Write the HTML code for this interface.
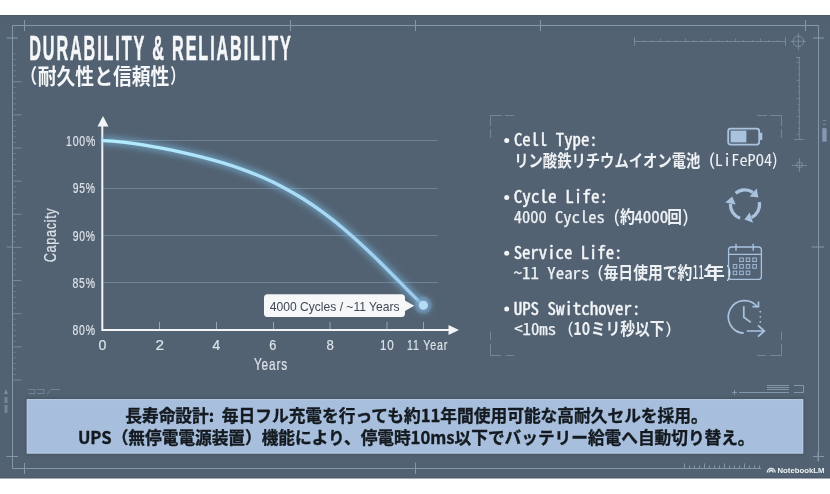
<!DOCTYPE html>
<html><head><meta charset="utf-8"><title>Durability &amp; Reliability</title>
<style>
html,body{margin:0;padding:0;background:#fff;width:830px;height:494px;overflow:hidden;}
svg{display:block;}
text{white-space:pre;}
</style></head>
<body>
<svg width="830" height="494" viewBox="0 0 830 494">
<rect x="0" y="15" width="830" height="463.3" fill="#526272"/>
<rect x="0" y="15" width="830" height="1.2" fill="#4c5a6a"/>
<rect x="0" y="477" width="830" height="1.3" fill="#4c5a6a"/>
<line x1="12.5" y1="25.5" x2="818.5" y2="25.5" stroke="#8397ab" stroke-width="1" />
<line x1="12.5" y1="25.5" x2="12.5" y2="468.5" stroke="#8397ab" stroke-width="1" />
<line x1="818.5" y1="25.5" x2="818.5" y2="461.5" stroke="#8397ab" stroke-width="1" />
<line x1="12.5" y1="468.5" x2="761" y2="468.5" stroke="#8397ab" stroke-width="1" />
<line x1="24.5" y1="20" x2="24.5" y2="31" stroke="#8397ab" stroke-width="1" />
<line x1="290.5" y1="20" x2="290.5" y2="31" stroke="#8397ab" stroke-width="1" />
<line x1="415.5" y1="20" x2="415.5" y2="31" stroke="#8397ab" stroke-width="1" />
<line x1="540.5" y1="20" x2="540.5" y2="31" stroke="#8397ab" stroke-width="1" />
<line x1="805.5" y1="20" x2="805.5" y2="31" stroke="#8397ab" stroke-width="1" />
<line x1="6.5" y1="38" x2="18" y2="38" stroke="#8397ab" stroke-width="1" />
<line x1="813" y1="38" x2="824" y2="38" stroke="#8397ab" stroke-width="1" />
<line x1="811.5" y1="247" x2="824" y2="247" stroke="#8397ab" stroke-width="1" />
<line x1="6.5" y1="247" x2="12.5" y2="247" stroke="#8397ab" stroke-width="1" opacity="0.8"/>
<line x1="813" y1="456.5" x2="824" y2="456.5" stroke="#8397ab" stroke-width="1" />
<line x1="6.5" y1="456.5" x2="18" y2="456.5" stroke="#8397ab" stroke-width="1" />
<line x1="24.5" y1="463" x2="24.5" y2="474" stroke="#8397ab" stroke-width="1" />
<line x1="415.5" y1="462.5" x2="415.5" y2="474" stroke="#8397ab" stroke-width="1" />
<line x1="12.5" y1="54.08" x2="16.0" y2="54.08" stroke="#8397ab" stroke-width="1" opacity="0.45"/>
<line x1="12.5" y1="59.61" x2="16.0" y2="59.61" stroke="#8397ab" stroke-width="1" opacity="0.45"/>
<line x1="12.5" y1="65.13" x2="16.0" y2="65.13" stroke="#8397ab" stroke-width="1" opacity="0.45"/>
<line x1="12.5" y1="70.65" x2="16.0" y2="70.65" stroke="#8397ab" stroke-width="1" opacity="0.45"/>
<line x1="12.5" y1="76.18" x2="16.0" y2="76.18" stroke="#8397ab" stroke-width="1" opacity="0.45"/>
<line x1="12.5" y1="81.7" x2="21.5" y2="81.7" stroke="#8397ab" stroke-width="1" opacity="0.75"/>
<line x1="12.5" y1="87.22" x2="16.0" y2="87.22" stroke="#8397ab" stroke-width="1" opacity="0.45"/>
<line x1="12.5" y1="92.75" x2="16.0" y2="92.75" stroke="#8397ab" stroke-width="1" opacity="0.45"/>
<line x1="12.5" y1="98.27" x2="16.0" y2="98.27" stroke="#8397ab" stroke-width="1" opacity="0.45"/>
<line x1="12.5" y1="103.79" x2="16.0" y2="103.79" stroke="#8397ab" stroke-width="1" opacity="0.45"/>
<line x1="12.5" y1="109.32" x2="16.0" y2="109.32" stroke="#8397ab" stroke-width="1" opacity="0.45"/>
<line x1="12.5" y1="114.84" x2="21.5" y2="114.84" stroke="#8397ab" stroke-width="1" opacity="0.75"/>
<line x1="12.5" y1="120.36" x2="16.0" y2="120.36" stroke="#8397ab" stroke-width="1" opacity="0.45"/>
<line x1="12.5" y1="125.89" x2="16.0" y2="125.89" stroke="#8397ab" stroke-width="1" opacity="0.45"/>
<line x1="12.5" y1="131.41" x2="16.0" y2="131.41" stroke="#8397ab" stroke-width="1" opacity="0.45"/>
<line x1="12.5" y1="136.93" x2="16.0" y2="136.93" stroke="#8397ab" stroke-width="1" opacity="0.45"/>
<line x1="12.5" y1="142.46" x2="16.0" y2="142.46" stroke="#8397ab" stroke-width="1" opacity="0.45"/>
<line x1="12.5" y1="147.98" x2="21.5" y2="147.98" stroke="#8397ab" stroke-width="1" opacity="0.75"/>
<line x1="12.5" y1="153.5" x2="16.0" y2="153.5" stroke="#8397ab" stroke-width="1" opacity="0.45"/>
<line x1="12.5" y1="159.03" x2="16.0" y2="159.03" stroke="#8397ab" stroke-width="1" opacity="0.45"/>
<line x1="12.5" y1="164.55" x2="16.0" y2="164.55" stroke="#8397ab" stroke-width="1" opacity="0.45"/>
<line x1="12.5" y1="170.07" x2="16.0" y2="170.07" stroke="#8397ab" stroke-width="1" opacity="0.45"/>
<line x1="12.5" y1="175.6" x2="16.0" y2="175.6" stroke="#8397ab" stroke-width="1" opacity="0.45"/>
<line x1="12.5" y1="181.12" x2="21.5" y2="181.12" stroke="#8397ab" stroke-width="1" opacity="0.75"/>
<line x1="12.5" y1="186.64" x2="16.0" y2="186.64" stroke="#8397ab" stroke-width="1" opacity="0.45"/>
<line x1="12.5" y1="192.17" x2="16.0" y2="192.17" stroke="#8397ab" stroke-width="1" opacity="0.45"/>
<line x1="12.5" y1="197.69" x2="16.0" y2="197.69" stroke="#8397ab" stroke-width="1" opacity="0.45"/>
<line x1="12.5" y1="203.21" x2="16.0" y2="203.21" stroke="#8397ab" stroke-width="1" opacity="0.45"/>
<line x1="12.5" y1="208.74" x2="16.0" y2="208.74" stroke="#8397ab" stroke-width="1" opacity="0.45"/>
<line x1="12.5" y1="214.26" x2="21.5" y2="214.26" stroke="#8397ab" stroke-width="1" opacity="0.75"/>
<line x1="12.5" y1="219.78" x2="16.0" y2="219.78" stroke="#8397ab" stroke-width="1" opacity="0.45"/>
<line x1="12.5" y1="225.31" x2="16.0" y2="225.31" stroke="#8397ab" stroke-width="1" opacity="0.45"/>
<line x1="12.5" y1="230.83" x2="16.0" y2="230.83" stroke="#8397ab" stroke-width="1" opacity="0.45"/>
<line x1="12.5" y1="236.35" x2="16.0" y2="236.35" stroke="#8397ab" stroke-width="1" opacity="0.45"/>
<line x1="12.5" y1="241.88" x2="16.0" y2="241.88" stroke="#8397ab" stroke-width="1" opacity="0.45"/>
<line x1="12.5" y1="247.4" x2="21.5" y2="247.4" stroke="#8397ab" stroke-width="1" opacity="0.75"/>
<line x1="12.5" y1="252.92" x2="16.0" y2="252.92" stroke="#8397ab" stroke-width="1" opacity="0.45"/>
<line x1="12.5" y1="258.45" x2="16.0" y2="258.45" stroke="#8397ab" stroke-width="1" opacity="0.45"/>
<line x1="12.5" y1="263.97" x2="16.0" y2="263.97" stroke="#8397ab" stroke-width="1" opacity="0.45"/>
<line x1="12.5" y1="269.49" x2="16.0" y2="269.49" stroke="#8397ab" stroke-width="1" opacity="0.45"/>
<line x1="12.5" y1="275.02" x2="16.0" y2="275.02" stroke="#8397ab" stroke-width="1" opacity="0.45"/>
<line x1="12.5" y1="280.54" x2="21.5" y2="280.54" stroke="#8397ab" stroke-width="1" opacity="0.75"/>
<line x1="12.5" y1="286.06" x2="16.0" y2="286.06" stroke="#8397ab" stroke-width="1" opacity="0.45"/>
<line x1="12.5" y1="291.59" x2="16.0" y2="291.59" stroke="#8397ab" stroke-width="1" opacity="0.45"/>
<line x1="12.5" y1="297.11" x2="16.0" y2="297.11" stroke="#8397ab" stroke-width="1" opacity="0.45"/>
<line x1="12.5" y1="302.63" x2="16.0" y2="302.63" stroke="#8397ab" stroke-width="1" opacity="0.45"/>
<line x1="12.5" y1="308.16" x2="16.0" y2="308.16" stroke="#8397ab" stroke-width="1" opacity="0.45"/>
<line x1="12.5" y1="313.68" x2="21.5" y2="313.68" stroke="#8397ab" stroke-width="1" opacity="0.75"/>
<line x1="12.5" y1="319.2" x2="16.0" y2="319.2" stroke="#8397ab" stroke-width="1" opacity="0.45"/>
<line x1="12.5" y1="324.73" x2="16.0" y2="324.73" stroke="#8397ab" stroke-width="1" opacity="0.45"/>
<line x1="12.5" y1="330.25" x2="16.0" y2="330.25" stroke="#8397ab" stroke-width="1" opacity="0.45"/>
<line x1="12.5" y1="335.77" x2="16.0" y2="335.77" stroke="#8397ab" stroke-width="1" opacity="0.45"/>
<line x1="12.5" y1="341.3" x2="16.0" y2="341.3" stroke="#8397ab" stroke-width="1" opacity="0.45"/>
<line x1="12.5" y1="346.82" x2="21.5" y2="346.82" stroke="#8397ab" stroke-width="1" opacity="0.75"/>
<line x1="12.5" y1="352.34" x2="16.0" y2="352.34" stroke="#8397ab" stroke-width="1" opacity="0.45"/>
<line x1="12.5" y1="357.87" x2="16.0" y2="357.87" stroke="#8397ab" stroke-width="1" opacity="0.45"/>
<line x1="12.5" y1="363.39" x2="16.0" y2="363.39" stroke="#8397ab" stroke-width="1" opacity="0.45"/>
<line x1="12.5" y1="368.91" x2="16.0" y2="368.91" stroke="#8397ab" stroke-width="1" opacity="0.45"/>
<line x1="12.5" y1="374.44" x2="16.0" y2="374.44" stroke="#8397ab" stroke-width="1" opacity="0.45"/>
<line x1="12.5" y1="379.96" x2="21.5" y2="379.96" stroke="#8397ab" stroke-width="1" opacity="0.75"/>
<line x1="634.5" y1="41.5" x2="785.5" y2="41.5" stroke="#8397ab" stroke-width="1" opacity="0.7"/>
<line x1="634.5" y1="37" x2="634.5" y2="46" stroke="#8397ab" stroke-width="1" opacity="0.7"/>
<line x1="785.5" y1="37" x2="785.5" y2="46" stroke="#8397ab" stroke-width="1" opacity="0.7"/>
<line x1="634.5" y1="38.5" x2="634.5" y2="41.5" stroke="#8397ab" stroke-width="1" opacity="0.6"/>
<line x1="643.5" y1="40.0" x2="643.5" y2="41.5" stroke="#8397ab" stroke-width="1" opacity="0.6"/>
<line x1="651.5" y1="40.0" x2="651.5" y2="41.5" stroke="#8397ab" stroke-width="1" opacity="0.6"/>
<line x1="660.5" y1="38.5" x2="660.5" y2="41.5" stroke="#8397ab" stroke-width="1" opacity="0.6"/>
<line x1="668.5" y1="40.0" x2="668.5" y2="41.5" stroke="#8397ab" stroke-width="1" opacity="0.6"/>
<line x1="676.5" y1="40.0" x2="676.5" y2="41.5" stroke="#8397ab" stroke-width="1" opacity="0.6"/>
<line x1="685.5" y1="38.5" x2="685.5" y2="41.5" stroke="#8397ab" stroke-width="1" opacity="0.6"/>
<line x1="693.5" y1="40.0" x2="693.5" y2="41.5" stroke="#8397ab" stroke-width="1" opacity="0.6"/>
<line x1="701.5" y1="40.0" x2="701.5" y2="41.5" stroke="#8397ab" stroke-width="1" opacity="0.6"/>
<line x1="710.5" y1="38.5" x2="710.5" y2="41.5" stroke="#8397ab" stroke-width="1" opacity="0.6"/>
<line x1="718.5" y1="40.0" x2="718.5" y2="41.5" stroke="#8397ab" stroke-width="1" opacity="0.6"/>
<line x1="727.5" y1="40.0" x2="727.5" y2="41.5" stroke="#8397ab" stroke-width="1" opacity="0.6"/>
<line x1="735.5" y1="38.5" x2="735.5" y2="41.5" stroke="#8397ab" stroke-width="1" opacity="0.6"/>
<line x1="743.5" y1="40.0" x2="743.5" y2="41.5" stroke="#8397ab" stroke-width="1" opacity="0.6"/>
<line x1="752.5" y1="40.0" x2="752.5" y2="41.5" stroke="#8397ab" stroke-width="1" opacity="0.6"/>
<line x1="760.5" y1="38.5" x2="760.5" y2="41.5" stroke="#8397ab" stroke-width="1" opacity="0.6"/>
<line x1="768.5" y1="40.0" x2="768.5" y2="41.5" stroke="#8397ab" stroke-width="1" opacity="0.6"/>
<line x1="777.5" y1="40.0" x2="777.5" y2="41.5" stroke="#8397ab" stroke-width="1" opacity="0.6"/>
<circle cx="798.4" cy="41.3" r="5.3" fill="none" stroke="#8397ab" stroke-width="1" opacity="0.85"/>
<line x1="790.5" y1="41.3" x2="806" y2="41.3" stroke="#8397ab" stroke-width="1" opacity="0.75"/>
<line x1="798.4" y1="33" x2="798.4" y2="50" stroke="#8397ab" stroke-width="1" opacity="0.75"/>
<line x1="799.3" y1="57" x2="799.3" y2="139" stroke="#8397ab" stroke-width="1" opacity="0.75"/>
<line x1="794" y1="139.5" x2="803.5" y2="139.5" stroke="#8397ab" stroke-width="1" opacity="0.75"/>
<line x1="796" y1="57.5" x2="800" y2="57.5" stroke="#8397ab" stroke-width="1" opacity="0.75"/>
<line x1="796.3" y1="62.5" x2="799.3" y2="62.5" stroke="#8397ab" stroke-width="1" opacity="0.5"/>
<line x1="797.8" y1="68.5" x2="799.3" y2="68.5" stroke="#8397ab" stroke-width="1" opacity="0.5"/>
<line x1="797.8" y1="74.5" x2="799.3" y2="74.5" stroke="#8397ab" stroke-width="1" opacity="0.5"/>
<line x1="796.3" y1="80.5" x2="799.3" y2="80.5" stroke="#8397ab" stroke-width="1" opacity="0.5"/>
<line x1="797.8" y1="86.5" x2="799.3" y2="86.5" stroke="#8397ab" stroke-width="1" opacity="0.5"/>
<line x1="797.8" y1="92.5" x2="799.3" y2="92.5" stroke="#8397ab" stroke-width="1" opacity="0.5"/>
<line x1="796.3" y1="98.5" x2="799.3" y2="98.5" stroke="#8397ab" stroke-width="1" opacity="0.5"/>
<line x1="797.8" y1="104.5" x2="799.3" y2="104.5" stroke="#8397ab" stroke-width="1" opacity="0.5"/>
<line x1="797.8" y1="110.5" x2="799.3" y2="110.5" stroke="#8397ab" stroke-width="1" opacity="0.5"/>
<line x1="796.3" y1="116.5" x2="799.3" y2="116.5" stroke="#8397ab" stroke-width="1" opacity="0.5"/>
<line x1="797.8" y1="122.5" x2="799.3" y2="122.5" stroke="#8397ab" stroke-width="1" opacity="0.5"/>
<line x1="797.8" y1="128.5" x2="799.3" y2="128.5" stroke="#8397ab" stroke-width="1" opacity="0.5"/>
<line x1="796.3" y1="134.5" x2="799.3" y2="134.5" stroke="#8397ab" stroke-width="1" opacity="0.5"/>
<circle cx="799.5" cy="165" r="3" fill="none" stroke="#8397ab" stroke-width="1" opacity="0.75"/>
<line x1="792" y1="165.5" x2="807" y2="165.5" stroke="#8397ab" stroke-width="1" opacity="0.7"/>
<line x1="799.5" y1="158" x2="799.5" y2="172" stroke="#8397ab" stroke-width="1" opacity="0.7"/>
<rect x="822.3" y="128.2" width="4.3" height="13.4" fill="#8ea5bd" opacity="0.85"/>
<line x1="822.5" y1="120.5" x2="826.5" y2="120.5" stroke="#8ea5bd" stroke-width="1" opacity="0.5"/>
<line x1="823" y1="124.5" x2="826" y2="124.5" stroke="#8ea5bd" stroke-width="1" opacity="0.6"/>
<line x1="739" y1="392.5" x2="789" y2="392.5" stroke="#8397ab" stroke-width="1" />
<line x1="734.5" y1="390" x2="734.5" y2="395" stroke="#8397ab" stroke-width="1" />
<line x1="732" y1="392.5" x2="737" y2="392.5" stroke="#8397ab" stroke-width="1" />
<line x1="767" y1="385.5" x2="789" y2="385.5" stroke="#8397ab" stroke-width="1" />
<line x1="767" y1="387.5" x2="789" y2="387.5" stroke="#8397ab" stroke-width="1" />
<line x1="767" y1="389.5" x2="789" y2="389.5" stroke="#8397ab" stroke-width="1" />
<path d="M794 385.5 H803.5 V392.5 H794" fill="none" stroke="#8397ab" stroke-width="1"/>
<line x1="683.5" y1="468.5" x2="761" y2="468.5" stroke="#8397ab" stroke-width="1" />
<line x1="684.5" y1="463.5" x2="684.5" y2="468.5" stroke="#8397ab" stroke-width="1" />
<line x1="689.5" y1="465.5" x2="689.5" y2="468.5" stroke="#8397ab" stroke-width="1" />
<line x1="694.5" y1="465.5" x2="694.5" y2="468.5" stroke="#8397ab" stroke-width="1" />
<line x1="699.5" y1="465.5" x2="699.5" y2="468.5" stroke="#8397ab" stroke-width="1" />
<line x1="704.5" y1="463.5" x2="704.5" y2="468.5" stroke="#8397ab" stroke-width="1" />
<line x1="709.5" y1="465.5" x2="709.5" y2="468.5" stroke="#8397ab" stroke-width="1" />
<line x1="714.5" y1="465.5" x2="714.5" y2="468.5" stroke="#8397ab" stroke-width="1" />
<line x1="719.5" y1="465.5" x2="719.5" y2="468.5" stroke="#8397ab" stroke-width="1" />
<line x1="724.5" y1="463.5" x2="724.5" y2="468.5" stroke="#8397ab" stroke-width="1" />
<line x1="729.5" y1="465.5" x2="729.5" y2="468.5" stroke="#8397ab" stroke-width="1" />
<line x1="734.5" y1="465.5" x2="734.5" y2="468.5" stroke="#8397ab" stroke-width="1" />
<line x1="739.5" y1="465.5" x2="739.5" y2="468.5" stroke="#8397ab" stroke-width="1" />
<line x1="744.5" y1="463.5" x2="744.5" y2="468.5" stroke="#8397ab" stroke-width="1" />
<line x1="749.5" y1="465.5" x2="749.5" y2="468.5" stroke="#8397ab" stroke-width="1" />
<line x1="754.5" y1="465.5" x2="754.5" y2="468.5" stroke="#8397ab" stroke-width="1" />
<line x1="759.5" y1="465.5" x2="759.5" y2="468.5" stroke="#8397ab" stroke-width="1" />
<line x1="818" y1="452" x2="818" y2="461" stroke="#8397ab" stroke-width="1" />
<path d="M28.5 389.5 H35 V393.5 H28.5 M37 389.5 H44 V393.5 H37 M47 394 L51 389.5 H60" fill="none" stroke="#8397ab" stroke-width="0.8" opacity="0.8"/>
<path d="M4 394 L6 389 L8 394 Z" fill="#8397ab" opacity="0.8"/>
<rect x="4.5" y="397" width="3" height="6" fill="#8397ab" opacity="0.7"/>
<rect x="4.5" y="405" width="3" height="8" fill="#8397ab" opacity="0.7"/>
<text x="29.28" y="59.63" font-size="34.52" font-family='"Liberation Sans", "Noto Sans CJK JP", sans-serif' font-weight="bold" fill="#f6f7f9" textLength="263.35" lengthAdjust="spacingAndGlyphs" letter-spacing="4" stroke="#f6f7f9" stroke-width="0.6">DURABILITY &amp; RELIABILITY</text>
<text x="20.54" y="83.23" font-size="19.68" font-family='"Noto Sans CJK JP", sans-serif' font-weight="bold" fill="#f4f6f8" textLength="16.70" lengthAdjust="spacingAndGlyphs"  >（</text>
<text x="37.80" y="83.64" font-size="21.23" font-family='"Noto Sans CJK JP", sans-serif' font-weight="bold" fill="#f4f6f8" textLength="131.51" lengthAdjust="spacingAndGlyphs"  >耐久性と信頼性</text>
<text x="170.27" y="83.23" font-size="19.68" font-family='"Noto Sans CJK JP", sans-serif' font-weight="bold" fill="#f4f6f8" textLength="14.61" lengthAdjust="spacingAndGlyphs"  >）</text>
<line x1="103" y1="140.5" x2="438" y2="140.5" stroke="#6f8296" stroke-width="1" />
<line x1="103" y1="188.5" x2="438" y2="188.5" stroke="#6f8296" stroke-width="1" />
<line x1="103" y1="235.5" x2="438" y2="235.5" stroke="#6f8296" stroke-width="1" />
<line x1="103" y1="282.5" x2="438" y2="282.5" stroke="#6f8296" stroke-width="1" />
<path d="M103 330 H450" stroke="#f2f4f6" stroke-width="2" fill="none"/>
<path d="M102.3 126 V331" stroke="#f2f4f6" stroke-width="2" fill="none"/>
<path d="M97.5 126.5 L103 116 L108.5 126.5 Z" fill="#f2f4f6"/>
<path d="M448.5 325 L459 330 L448.5 335 Z" fill="#f2f4f6"/>
<line x1="159.5" y1="322" x2="159.5" y2="329" stroke="#9eacba" stroke-width="0.9" />
<line x1="216.5" y1="322" x2="216.5" y2="329" stroke="#9eacba" stroke-width="0.9" />
<line x1="273.5" y1="322" x2="273.5" y2="329" stroke="#9eacba" stroke-width="0.9" />
<line x1="330" y1="322" x2="330" y2="329" stroke="#9eacba" stroke-width="0.9" />
<line x1="387" y1="322" x2="387" y2="329" stroke="#9eacba" stroke-width="0.9" />
<line x1="423.5" y1="322" x2="423.5" y2="329" stroke="#9eacba" stroke-width="0.9" />
<text x="65.97" y="145.90" font-size="15.05" font-family='"Liberation Sans", "Noto Sans CJK JP", sans-serif' font-weight="normal" fill="#dde3e9" textLength="30.19" lengthAdjust="spacingAndGlyphs" letter-spacing="1.2" stroke="#dde3e9" stroke-width="0.2">100%</text>
<text x="72.66" y="193.20" font-size="15.05" font-family='"Liberation Sans", "Noto Sans CJK JP", sans-serif' font-weight="normal" fill="#dde3e9" textLength="23.21" lengthAdjust="spacingAndGlyphs" letter-spacing="1.2" stroke="#dde3e9" stroke-width="0.2">95%</text>
<text x="72.66" y="240.80" font-size="14.91" font-family='"Liberation Sans", "Noto Sans CJK JP", sans-serif' font-weight="normal" fill="#dde3e9" textLength="23.21" lengthAdjust="spacingAndGlyphs" letter-spacing="1.2" stroke="#dde3e9" stroke-width="0.2">90%</text>
<text x="72.45" y="288.10" font-size="14.91" font-family='"Liberation Sans", "Noto Sans CJK JP", sans-serif' font-weight="normal" fill="#dde3e9" textLength="23.43" lengthAdjust="spacingAndGlyphs" letter-spacing="1.2" stroke="#dde3e9" stroke-width="0.2">85%</text>
<text x="72.45" y="335.30" font-size="14.91" font-family='"Liberation Sans", "Noto Sans CJK JP", sans-serif' font-weight="normal" fill="#dde3e9" textLength="23.43" lengthAdjust="spacingAndGlyphs" letter-spacing="1.2" stroke="#dde3e9" stroke-width="0.2">80%</text>
<text x="98.40" y="350.10" font-size="14.91" font-family='"Liberation Sans", "Noto Sans CJK JP", sans-serif' font-weight="normal" fill="#dde3e9" textLength="9.03" lengthAdjust="spacingAndGlyphs" letter-spacing="1.2" stroke="#dde3e9" stroke-width="0.2">0</text>
<text x="155.59" y="350.10" font-size="14.91" font-family='"Liberation Sans", "Noto Sans CJK JP", sans-serif' font-weight="normal" fill="#dde3e9" textLength="9.79" lengthAdjust="spacingAndGlyphs" letter-spacing="1.2" stroke="#dde3e9" stroke-width="0.2">2</text>
<text x="212.56" y="350.10" font-size="15.29" font-family='"Liberation Sans", "Noto Sans CJK JP", sans-serif' font-weight="normal" fill="#dde3e9" textLength="8.78" lengthAdjust="spacingAndGlyphs" letter-spacing="1.2" stroke="#dde3e9" stroke-width="0.2">4</text>
<text x="269.33" y="350.10" font-size="14.91" font-family='"Liberation Sans", "Noto Sans CJK JP", sans-serif' font-weight="normal" fill="#dde3e9" textLength="8.11" lengthAdjust="spacingAndGlyphs" letter-spacing="1.2" stroke="#dde3e9" stroke-width="0.2">6</text>
<text x="326.41" y="350.10" font-size="14.91" font-family='"Liberation Sans", "Noto Sans CJK JP", sans-serif' font-weight="normal" fill="#dde3e9" textLength="8.39" lengthAdjust="spacingAndGlyphs" letter-spacing="1.2" stroke="#dde3e9" stroke-width="0.2">8</text>
<text x="379.99" y="350.10" font-size="14.91" font-family='"Liberation Sans", "Noto Sans CJK JP", sans-serif' font-weight="normal" fill="#dde3e9" textLength="14.78" lengthAdjust="spacingAndGlyphs" letter-spacing="1.2" stroke="#dde3e9" stroke-width="0.2">10</text>
<text x="407.06" y="350.10" font-size="15.29" font-family='"Liberation Sans", "Noto Sans CJK JP", sans-serif' font-weight="normal" fill="#dde3e9" textLength="41.14" lengthAdjust="spacingAndGlyphs" letter-spacing="1.2" stroke="#dde3e9" stroke-width="0.2">11 Year</text>
<text x="253.92" y="370.40" font-size="16.57" font-family='"Liberation Sans", "Noto Sans CJK JP", sans-serif' font-weight="normal" fill="#dde3e9" textLength="34.05" lengthAdjust="spacingAndGlyphs" letter-spacing="1.2" stroke="#dde3e9" stroke-width="0.2">Years</text>
<text x="-262.21" y="56.12" font-size="16.14" font-family='"Liberation Sans", "Noto Sans CJK JP", sans-serif' font-weight="normal" fill="#dde3e9" textLength="54.50" lengthAdjust="spacingAndGlyphs" letter-spacing="0.8" transform="rotate(-90)" stroke="#dde3e9" stroke-width="0.2">Capacity</text>
<defs><filter id="glow" x="-20%" y="-20%" width="140%" height="140%"><feGaussianBlur stdDeviation="3"/></filter><linearGradient id="cg" x1="103" y1="0" x2="423" y2="0" gradientUnits="userSpaceOnUse"><stop offset="0" stop-color="#b4eeff"/><stop offset="0.6" stop-color="#aadcf6"/><stop offset="1" stop-color="#9ccaee"/></linearGradient></defs>
<path d="M103.00 140.61 C109.67 140.84 116.33 141.39 123.00 142.13 C129.67 142.88 136.33 143.82 143.00 144.89 C149.67 145.95 156.33 147.14 163.00 148.43 C169.67 149.72 176.33 151.10 183.00 152.59 C189.67 154.07 196.33 155.66 203.00 157.37 C209.67 159.09 216.33 160.93 223.00 162.94 C229.67 164.96 236.33 167.15 243.00 169.56 C249.67 171.97 256.33 174.61 263.00 177.53 C269.67 180.45 276.33 183.65 283.00 187.17 C289.67 190.69 296.33 194.53 303.00 198.73 C309.67 202.93 316.33 207.49 323.00 212.40 C329.67 217.31 336.33 222.59 343.00 228.19 C349.67 233.79 356.33 239.73 363.00 245.93 C369.67 252.14 376.33 258.60 383.00 265.22 C389.67 271.84 396.33 278.61 403.00 285.36 C409.67 292.10 416.33 298.83 423.00 305.29" fill="none" stroke="#7fc4ee" stroke-width="8" opacity="0.55" filter="url(#glow)"/>
<path d="M103.00 140.61 C109.67 140.84 116.33 141.39 123.00 142.13 C129.67 142.88 136.33 143.82 143.00 144.89 C149.67 145.95 156.33 147.14 163.00 148.43 C169.67 149.72 176.33 151.10 183.00 152.59 C189.67 154.07 196.33 155.66 203.00 157.37 C209.67 159.09 216.33 160.93 223.00 162.94 C229.67 164.96 236.33 167.15 243.00 169.56 C249.67 171.97 256.33 174.61 263.00 177.53 C269.67 180.45 276.33 183.65 283.00 187.17 C289.67 190.69 296.33 194.53 303.00 198.73 C309.67 202.93 316.33 207.49 323.00 212.40 C329.67 217.31 336.33 222.59 343.00 228.19 C349.67 233.79 356.33 239.73 363.00 245.93 C369.67 252.14 376.33 258.60 383.00 265.22 C389.67 271.84 396.33 278.61 403.00 285.36 C409.67 292.10 416.33 298.83 423.00 305.29" fill="none" stroke="url(#cg)" stroke-width="3.4" stroke-linecap="round"/>
<defs><filter id="soft" x="-50%" y="-50%" width="200%" height="200%"><feGaussianBlur stdDeviation="0.8"/></filter></defs>
<circle cx="423.4" cy="305.3" r="9" fill="#7fb8e6" opacity="0.3" filter="url(#glow)"/>
<circle cx="423.4" cy="305.3" r="8.3" fill="#7aa4c8" opacity="0.55" filter="url(#soft)"/>
<circle cx="423.4" cy="305.3" r="4.6" fill="#b3dcf6"/>
<path d="M267.5 294.3 H401.5 Q405 294.3 405 297.8 V300.5 L414.2 305.8 L405 311 V313.5 Q405 317 401.5 317 H267.5 Q264 317 264 313.5 V297.8 Q264 294.3 267.5 294.3 Z" fill="#f5f7f9"/>
<text x="269.75" y="310.80" font-size="12.20" font-family='"Liberation Sans", "Noto Sans CJK JP", sans-serif' font-weight="normal" fill="#3f4955" textLength="129.84" lengthAdjust="spacingAndGlyphs"  >4000 Cycles / ~11 Years</text>
<path d="M490.5 138 V129 M490.5 126 V115.5 H502 M505 115.5 H514" fill="none" stroke="#8397ab" stroke-width="1" opacity="0.7"/>
<path d="M781.5 138 V129 M781.5 126 V115.5 H770 M767 115.5 H757" fill="none" stroke="#8397ab" stroke-width="1" opacity="0.7"/>
<path d="M490.5 331.5 V340 M490.5 344 V355.5 H501 M506 355.5 H514" fill="none" stroke="#8397ab" stroke-width="1" opacity="0.7"/>
<path d="M781.5 331.5 V340 M781.5 344 V355.5 H770 M766 355.5 H757" fill="none" stroke="#8397ab" stroke-width="1" opacity="0.7"/>
<circle cx="506.7" cy="140.5" r="2.5" fill="#f4f6f8"/>
<text x="513.97" y="146.10" font-size="17.20" font-family='"Noto Sans Mono CJK JP", "DejaVu Sans Mono", monospace' font-weight="normal" fill="#f4f6f8" textLength="83.65" lengthAdjust="spacingAndGlyphs"  stroke="#f4f6f8" stroke-width="0.45">Cell Type:</text>
<circle cx="506.7" cy="197.4" r="2.5" fill="#f4f6f8"/>
<text x="513.75" y="203.00" font-size="17.20" font-family='"Noto Sans Mono CJK JP", "DejaVu Sans Mono", monospace' font-weight="normal" fill="#f4f6f8" textLength="94.34" lengthAdjust="spacingAndGlyphs"  stroke="#f4f6f8" stroke-width="0.45">Cycle Life:</text>
<circle cx="506.7" cy="253.20000000000002" r="2.5" fill="#f4f6f8"/>
<text x="513.77" y="258.80" font-size="17.20" font-family='"Noto Sans Mono CJK JP", "DejaVu Sans Mono", monospace' font-weight="normal" fill="#f4f6f8" textLength="108.68" lengthAdjust="spacingAndGlyphs"  stroke="#f4f6f8" stroke-width="0.45">Service Life:</text>
<circle cx="506.7" cy="309.09999999999997" r="2.5" fill="#f4f6f8"/>
<text x="513.72" y="314.70" font-size="17.20" font-family='"Noto Sans Mono CJK JP", "DejaVu Sans Mono", monospace' font-weight="normal" fill="#f4f6f8" textLength="126.70" lengthAdjust="spacingAndGlyphs"  stroke="#f4f6f8" stroke-width="0.45">UPS Switchover:</text>
<text x="514.16" y="167.00" font-size="17.00" font-family='"Noto Sans CJK JP", sans-serif' font-weight="bold" fill="#eef1f4" textLength="186.26" lengthAdjust="spacingAndGlyphs"  >リン酸鉄リチウムイオン電池</text>
<text x="708.16" y="165.63" font-size="16.60" font-family='"Noto Sans CJK JP", sans-serif' font-weight="normal" fill="#eef1f4" textLength="7.06" lengthAdjust="spacingAndGlyphs"  >(</text>
<text x="714.89" y="166.46" font-size="15.85" font-family='"Noto Sans Mono CJK JP", "DejaVu Sans Mono", monospace' font-weight="normal" fill="#eef1f4" textLength="57.21" lengthAdjust="spacingAndGlyphs"  >LiFePO4</text>
<text x="772.03" y="165.63" font-size="16.60" font-family='"Noto Sans CJK JP", sans-serif' font-weight="normal" fill="#eef1f4" textLength="5.91" lengthAdjust="spacingAndGlyphs"  >)</text>
<text x="513.79" y="222.70" font-size="16.30" font-family='"Noto Sans Mono CJK JP", "DejaVu Sans Mono", monospace' font-weight="normal" fill="#eef1f4" textLength="90.93" lengthAdjust="spacingAndGlyphs"  stroke="#eef1f4" stroke-width="0.25">4000 Cycles</text>
<text x="612.96" y="223.00" font-size="17.00" font-family='"Noto Sans CJK JP", sans-serif' font-weight="normal" fill="#eef1f4" textLength="7.06" lengthAdjust="spacingAndGlyphs"  >(</text>
<text x="619.98" y="223.00" font-size="17.00" font-family='"Noto Sans CJK JP", sans-serif' font-weight="bold" fill="#eef1f4" textLength="14.98" lengthAdjust="spacingAndGlyphs"  >約</text>
<text x="634.28" y="222.70" font-size="16.30" font-family='"Noto Sans Mono CJK JP", "DejaVu Sans Mono", monospace' font-weight="normal" fill="#eef1f4" textLength="33.99" lengthAdjust="spacingAndGlyphs"  stroke="#eef1f4" stroke-width="0.35">4000</text>
<text x="667.32" y="223.00" font-size="17.00" font-family='"Noto Sans CJK JP", sans-serif' font-weight="bold" fill="#eef1f4" textLength="14.66" lengthAdjust="spacingAndGlyphs"  >回</text>
<text x="682.18" y="223.00" font-size="17.00" font-family='"Noto Sans CJK JP", sans-serif' font-weight="normal" fill="#eef1f4" textLength="7.06" lengthAdjust="spacingAndGlyphs"  >)</text>
<text x="513.68" y="278.60" font-size="16.30" font-family='"Noto Sans Mono CJK JP", "DejaVu Sans Mono", monospace' font-weight="normal" fill="#eef1f4" textLength="75.78" lengthAdjust="spacingAndGlyphs"  stroke="#eef1f4" stroke-width="0.25">~11 Years</text>
<text x="596.86" y="277.76" font-size="15.90" font-family='"Noto Sans CJK JP", sans-serif' font-weight="normal" fill="#eef1f4" textLength="7.06" lengthAdjust="spacingAndGlyphs"  >(</text>
<text x="603.56" y="278.80" font-size="17.00" font-family='"Noto Sans CJK JP", sans-serif' font-weight="bold" fill="#eef1f4" textLength="88.89" lengthAdjust="spacingAndGlyphs"  >毎日使用で約</text>
<text x="692.40" y="279.30" font-size="18.60" font-family='"Noto Sans CJK JP", sans-serif' font-weight="500" fill="#eef1f4" textLength="11.69" lengthAdjust="spacingAndGlyphs"  >11</text>
<text x="703.34" y="278.80" font-size="17.00" font-family='"Noto Sans CJK JP", sans-serif' font-weight="bold" fill="#eef1f4" textLength="21.72" lengthAdjust="spacingAndGlyphs"  >年</text>
<text x="726.27" y="277.76" font-size="15.90" font-family='"Noto Sans CJK JP", sans-serif' font-weight="normal" fill="#eef1f4" textLength="5.59" lengthAdjust="spacingAndGlyphs"  >)</text>
<text x="514.18" y="335.20" font-size="16.30" font-family='"Noto Sans Mono CJK JP", "DejaVu Sans Mono", monospace' font-weight="normal" fill="#eef1f4" textLength="42.02" lengthAdjust="spacingAndGlyphs"  stroke="#eef1f4" stroke-width="0.25">&lt;10ms</text>
<text x="566.86" y="333.86" font-size="15.40" font-family='"Noto Sans CJK JP", sans-serif' font-weight="normal" fill="#eef1f4" textLength="7.06" lengthAdjust="spacingAndGlyphs"  >(</text>
<text x="573.24" y="335.04" font-size="17.87" font-family='"Noto Sans CJK JP", sans-serif' font-weight="bold" fill="#eef1f4" textLength="16.84" lengthAdjust="spacingAndGlyphs"  >10</text>
<text x="590.63" y="334.90" font-size="17.00" font-family='"Noto Sans CJK JP", sans-serif' font-weight="bold" fill="#eef1f4" textLength="73.93" lengthAdjust="spacingAndGlyphs"  >ミリ秒以下</text>
<text x="665.38" y="333.86" font-size="15.40" font-family='"Noto Sans CJK JP", sans-serif' font-weight="normal" fill="#eef1f4" textLength="7.06" lengthAdjust="spacingAndGlyphs"  >)</text>
<rect x="728.2" y="128.7" width="31" height="15.9" rx="2.5" fill="none" stroke="#a9c3df" stroke-width="1.8"/>
<rect x="730.6" y="130.6" width="15.8" height="11.8" fill="#a9c3df"/>
<rect x="759.5" y="132.8" width="2.8" height="7.2" rx="0.8" fill="#a9c3df"/>
<path d="M735.62 193.32 A14.6 14.6 0 0 1 752.95 192.26" fill="none" stroke="#a9c3df" stroke-width="3.3"/>
<path d="M749.65 196.45 L756.70 188.40 L758.33 197.41 Z" fill="#a9c3df"/>
<path d="M759.38 201.96 A14.6 14.6 0 0 1 751.63 217.51" fill="none" stroke="#a9c3df" stroke-width="3.3"/>
<path d="M749.65 212.55 L753.09 222.68 L744.47 219.59 Z" fill="#a9c3df"/>
<path d="M740.01 218.22 A14.6 14.6 0 0 1 730.42 203.74" fill="none" stroke="#a9c3df" stroke-width="3.3"/>
<path d="M735.70 204.50 L725.21 202.42 L732.19 196.50 Z" fill="#a9c3df"/>
<rect x="728.6" y="247" width="32.8" height="32.4" rx="3" fill="none" stroke="#a9c3df" stroke-width="1.3"/>
<line x1="728.6" y1="254.3" x2="761.4" y2="254.3" stroke="#a9c3df" stroke-width="1.3" />
<line x1="736" y1="243.8" x2="736" y2="250.8" stroke="#a9c3df" stroke-width="1.4" />
<line x1="753.2" y1="243.8" x2="753.2" y2="250.8" stroke="#a9c3df" stroke-width="1.4" />
<rect x="739.7" y="258.0" width="3.6" height="3.6" fill="none" stroke="#a9c3df" stroke-width="0.9"/>
<rect x="746.2" y="258.0" width="3.6" height="3.6" fill="none" stroke="#a9c3df" stroke-width="0.9"/>
<rect x="752.8000000000001" y="258.0" width="3.6" height="3.6" fill="none" stroke="#a9c3df" stroke-width="0.9"/>
<rect x="733.2" y="264.59999999999997" width="3.6" height="3.6" fill="none" stroke="#a9c3df" stroke-width="0.9"/>
<rect x="739.7" y="264.59999999999997" width="3.6" height="3.6" fill="none" stroke="#a9c3df" stroke-width="0.9"/>
<rect x="746.2" y="264.59999999999997" width="3.6" height="3.6" fill="none" stroke="#a9c3df" stroke-width="0.9"/>
<rect x="752.8000000000001" y="264.59999999999997" width="3.6" height="3.6" fill="none" stroke="#a9c3df" stroke-width="0.9"/>
<rect x="733.2" y="271.09999999999997" width="3.6" height="3.6" fill="none" stroke="#a9c3df" stroke-width="0.9"/>
<rect x="739.7" y="271.09999999999997" width="3.6" height="3.6" fill="none" stroke="#a9c3df" stroke-width="0.9"/>
<rect x="746.2" y="271.09999999999997" width="3.6" height="3.6" fill="none" stroke="#a9c3df" stroke-width="0.9"/>
<path d="M743.75 333.18 A16.3 16.3 0 1 1 757.44 306.86" fill="none" stroke="#a9c3df" stroke-width="1.7"/>
<path d="M758.5 301.5 V306.7 H752.4" fill="none" stroke="#a9c3df" stroke-width="1.7"/>
<path d="M743.8 306.2 V317.3 L750.9 322.4" fill="none" stroke="#a9c3df" stroke-width="1.7"/>
<circle cx="760.3" cy="311.7" r="0.9" fill="#a9c3df"/>
<circle cx="760.3" cy="316.8" r="0.9" fill="#a9c3df"/>
<circle cx="760.3" cy="321.9" r="0.9" fill="#a9c3df"/>
<path d="M746.8 331 H764.3 M758 325.3 L764.3 331 L758 336.7" fill="none" stroke="#a9c3df" stroke-width="1.7"/>
<defs><filter id="bsh" x="-5%" y="-30%" width="110%" height="160%"><feGaussianBlur stdDeviation="1.5"/></filter></defs>
<rect x="25.8" y="398" width="778.6" height="57" fill="#3c4a58" opacity="0.55" filter="url(#bsh)"/>
<rect x="26.8" y="399.1" width="776.4" height="54.4" fill="#a7bfdc"/>
<rect x="27.3" y="399.6" width="775.4" height="53.4" fill="none" stroke="#b6cae3" stroke-width="1"/>
<text x="125.25" y="421.80" font-size="16.80" font-family='"Noto Sans CJK JP", sans-serif' font-weight="bold" fill="#141a20" textLength="582.43" lengthAdjust="spacingAndGlyphs"  stroke="#141a20" stroke-width="0.35">長寿命設計:  毎日フル充電を行っても約11年間使用可能な高耐久セルを採用。</text>
<text x="77.91" y="444.00" font-size="16.80" font-family='"Noto Sans CJK JP", sans-serif' font-weight="bold" fill="#141a20" textLength="676.63" lengthAdjust="spacingAndGlyphs"  stroke="#141a20" stroke-width="0.35">UPS（無停電電源装置）機能により、停電時10ms以下でバッテリー給電へ自動切り替え。</text>
<path d="M767.2 472.5 A4 4 0 0 1 775.2 472.5 M769.2 472.5 A2 2 0 0 1 773.2 472.5" fill="none" stroke="#e6eaee" stroke-width="1.3"/>
<text x="777.53" y="472.60" font-size="8.02" font-family='"Liberation Sans", "Noto Sans CJK JP", sans-serif' font-weight="bold" fill="#eef1f4" textLength="46.93" lengthAdjust="spacingAndGlyphs"  >NotebookLM</text>
</svg>
</body></html>
